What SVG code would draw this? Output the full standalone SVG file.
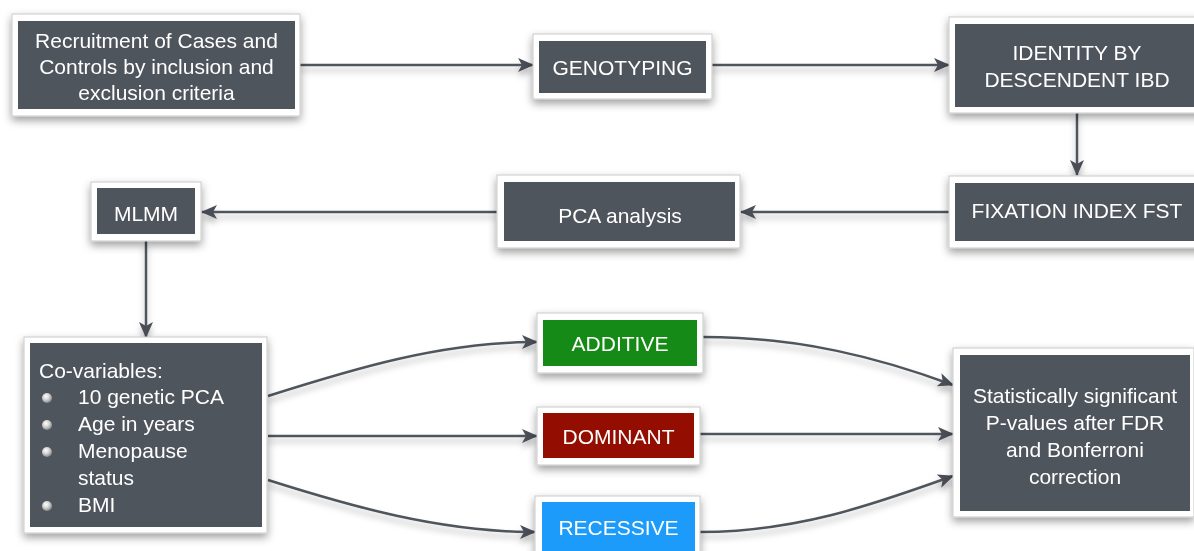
<svg xmlns="http://www.w3.org/2000/svg" width="1194" height="551" viewBox="0 0 1194 551">
  <defs>
    <style>
      .frame { fill: #ffffff; stroke: #c9c9c9; stroke-width: 1; }
      .dark { fill: #50545d; }
      .add { fill: #178a17; }
      .dom { fill: #931000; }
      .rec { fill: #1a9bfb; }
      .lbl { font-family: "Liberation Sans", Arial, sans-serif; font-size: 21px; fill: #ffffff; }
      .mid { text-anchor: middle; }
      .link { fill: none; stroke: #50545d; stroke-width: 2.5; marker-end: url(#head); }
    </style>
    <filter id="boxShadow" x="-10%" y="-20%" width="120%" height="150%">
      <feDropShadow dx="0" dy="4" stdDeviation="4" flood-color="#000000" flood-opacity="0.38"/>
    </filter>
    <filter id="lineShadow" x="-10%" y="-50%" width="120%" height="200%">
      <feDropShadow dx="0" dy="5" stdDeviation="3" flood-color="#000000" flood-opacity="0.28"/>
    </filter>
    <marker id="head" viewBox="0 0 16 14" refX="15" refY="7" markerWidth="16" markerHeight="14" markerUnits="userSpaceOnUse" orient="auto">
      <path d="M0,0 L16,7 L0,14 L4,7 Z" fill="#4a4e57"/>
    </marker>
    <radialGradient id="bead" cx="40%" cy="35%" r="65%">
      <stop offset="0" stop-color="#ffffff"/>
      <stop offset="0.5" stop-color="#d4d4d4"/>
      <stop offset="1" stop-color="#8a8a8a"/>
    </radialGradient>
  </defs>

  <rect width="1194" height="551" fill="#ffffff"/>

  <!-- connectors -->
  <g id="connectors" filter="url(#lineShadow)">
    <path class="link" d="M300,65 L533,65"/>
    <path class="link" d="M712,65 L949,65"/>
    <path class="link" d="M1077,113 L1077,175"/>
    <path class="link" d="M949,212 L741,212"/>
    <path class="link" d="M497,212 L202,212"/>
    <path class="link" d="M146,241 L146,337"/>
    <path class="link" d="M268,396 C350,370 440,342 537,342"/>
    <path class="link" d="M268,436 L537,436"/>
    <path class="link" d="M268,480 C350,506 440,532 535,532"/>
    <path class="link" d="M703,337 C800,337 880,358 953,385"/>
    <path class="link" d="M700,434 L953,434"/>
    <path class="link" d="M700,532 C800,532 880,502 953,476"/>
  </g>

  <!-- nodes -->
  <g id="recruitment" filter="url(#boxShadow)">
    <rect class="frame" x="12" y="14" width="288" height="102"/>
    <rect class="dark" x="18" y="21" width="277" height="88"/>
    <text class="lbl mid" x="156.5" y="48">Recruitment of Cases and</text>
    <text class="lbl mid" x="156.5" y="74">Controls by inclusion and</text>
    <text class="lbl mid" x="156.5" y="100">exclusion criteria</text>
  </g>

  <g id="genotyping" filter="url(#boxShadow)">
    <rect class="frame" x="533" y="34" width="179" height="65"/>
    <rect class="dark" x="539" y="41" width="167" height="52"/>
    <text class="lbl mid" x="622.5" y="75">GENOTYPING</text>
  </g>

  <g id="ibd" filter="url(#boxShadow)">
    <rect class="frame" x="949" y="17" width="256" height="96"/>
    <rect class="dark" x="955" y="24" width="244" height="83"/>
    <text class="lbl mid" x="1077" y="60">IDENTITY BY</text>
    <text class="lbl mid" x="1077" y="87">DESCENDENT IBD</text>
  </g>

  <g id="fst" filter="url(#boxShadow)">
    <rect class="frame" x="949" y="176" width="256" height="72"/>
    <rect class="dark" x="955" y="183" width="244" height="58"/>
    <text class="lbl mid" x="1077" y="218">FIXATION INDEX FST</text>
  </g>

  <g id="pca" filter="url(#boxShadow)">
    <rect class="frame" x="497" y="175" width="243" height="73"/>
    <rect class="dark" x="504" y="182" width="231" height="59"/>
    <text class="lbl mid" x="620" y="223">PCA analysis</text>
  </g>

  <g id="mlmm" filter="url(#boxShadow)">
    <rect class="frame" x="91" y="182" width="110" height="59"/>
    <rect class="dark" x="97" y="188" width="98" height="46"/>
    <text class="lbl mid" x="146" y="221">MLMM</text>
  </g>

  <g id="covariables" filter="url(#boxShadow)">
    <rect class="frame" x="24" y="337" width="243" height="196"/>
    <rect class="dark" x="30" y="343" width="232" height="184"/>
    <text class="lbl" x="39" y="378">Co-variables:</text>
    <circle cx="47" cy="398" r="5" fill="url(#bead)"/>
    <text class="lbl" x="78" y="404">10 genetic PCA</text>
    <circle cx="47" cy="425" r="5" fill="url(#bead)"/>
    <text class="lbl" x="78" y="431">Age in years</text>
    <circle cx="47" cy="452" r="5" fill="url(#bead)"/>
    <text class="lbl" x="78" y="458">Menopause</text>
    <text class="lbl" x="78" y="485">status</text>
    <circle cx="47" cy="506" r="5" fill="url(#bead)"/>
    <text class="lbl" x="78" y="512">BMI</text>
  </g>

  <g id="additive" filter="url(#boxShadow)">
    <rect class="frame" x="537" y="313" width="166" height="60"/>
    <rect class="add" x="543" y="320" width="154" height="46"/>
    <text class="lbl mid" x="620" y="351">ADDITIVE</text>
  </g>

  <g id="dominant" filter="url(#boxShadow)">
    <rect class="frame" x="537" y="407" width="163" height="58"/>
    <rect class="dom" x="543" y="413" width="151" height="45"/>
    <text class="lbl mid" x="618.5" y="444">DOMINANT</text>
  </g>

  <g id="recessive" filter="url(#boxShadow)">
    <rect class="frame" x="535" y="496" width="165" height="64"/>
    <rect class="rec" x="542" y="502" width="153" height="53"/>
    <text class="lbl mid" x="618.5" y="535">RECESSIVE</text>
  </g>

  <g id="significance" filter="url(#boxShadow)">
    <rect class="frame" x="953" y="348" width="241" height="169"/>
    <rect class="dark" x="960" y="355" width="230" height="156"/>
    <text class="lbl mid" x="1075" y="403">Statistically significant</text>
    <text class="lbl mid" x="1075" y="430">P-values after FDR</text>
    <text class="lbl mid" x="1075" y="457">and Bonferroni</text>
    <text class="lbl mid" x="1075" y="484">correction</text>
  </g>
</svg>
